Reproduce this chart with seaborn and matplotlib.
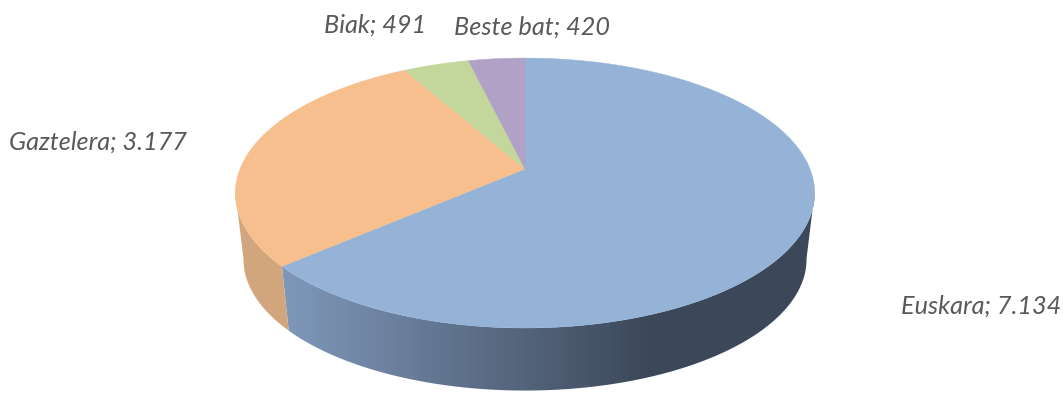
import numpy as np
import matplotlib
matplotlib.use("Agg")
import matplotlib.pyplot as plt
from matplotlib.patches import Polygon
import seaborn as sns

categories = ["Euskara", "Gaztelera", "Biak", "Beste bat"]
values = [7134, 3177, 491, 420]

sns.set_theme(style="white")
plt.rcParams["font.family"] = ["Lato", "DejaVu Sans"]

top_colors = sns.color_palette(["#95B3D7", "#F6BF8D", "#C3D69B", "#B2A1C7"])
wall_ramps = [
    sns.blend_palette(["#7F98BA", "#3C4859"], 256, as_cmap=True),
    sns.blend_palette(["#D2A67D", "#D2A67D"], 2, as_cmap=True),
    sns.blend_palette(["#9CAB7C", "#9CAB7C"], 2, as_cmap=True),
    sns.blend_palette(["#8E81A0", "#8E81A0"], 2, as_cmap=True),
]

W, H = 1063, 394
fig = plt.figure(figsize=(W / 100, H / 100), dpi=100, facecolor="white")
ax = fig.add_axes([0, 0, 1, 1])

# Perspective projection of the pie disc; angle runs clockwise from 12 o'clock
CX, APEX_Y, RX, RY, K = 525.0, 169.0, 285.0, 130.7, 0.178
DEPTH_Y, SHRINK = 67.0, 0.972
GRAD_X0, GRAD_X1 = 285.0, 650.0
WALL_FROM, WALL_TO = np.radians(100), np.radians(260)


def project(angle, lower=False):
    px, py = np.sin(angle), np.cos(angle)
    w = 1 + K * py
    s = SHRINK if lower else 1.0
    y0 = APEX_Y + DEPTH_Y if lower else APEX_Y
    return CX + s * RX * px / w, y0 - s * RY * py / w


fractions = np.array(values, dtype=float) / np.sum(values)
edges = np.concatenate([[0.0], np.cumsum(fractions)]) * 2 * np.pi

ramp_pos = np.clip((np.arange(W) + 0.5 - GRAD_X0) / (GRAD_X1 - GRAD_X0), 0, 1)[None, :]

# side walls: only the part facing the viewer, shaded left to right
for a0, a1, ramp in zip(edges[:-1], edges[1:], wall_ramps):
    lo, hi = max(a0, WALL_FROM), min(a1, WALL_TO)
    if lo >= hi:
        continue
    t = np.linspace(lo, hi, 300)
    xt, yt = project(t)
    xb, yb = project(t[::-1], lower=True)
    poly = Polygon(np.column_stack([np.r_[xt, xb], np.r_[yt, yb]]), closed=True,
                   facecolor="none", edgecolor="none", transform=ax.transData)
    ax.add_patch(poly)
    im = ax.imshow(ramp_pos, extent=(0, W, H, 0), cmap=ramp, vmin=0, vmax=1,
                   aspect="auto", interpolation="bilinear", zorder=1)
    im.set_clip_path(poly)

# top faces
for a0, a1, col in zip(edges[:-1], edges[1:], top_colors):
    t = np.linspace(a0, a1, 300)
    xt, yt = project(t)
    pts = np.column_stack([np.r_[CX, xt], np.r_[APEX_Y, yt]])
    ax.add_patch(Polygon(pts, closed=True, facecolor=col, edgecolor=col, linewidth=0.3, zorder=2))

ax.set_xlim(0, W)
ax.set_ylim(H, 0)
ax.axis("off")

# data labels
label_pos = [(1061, 306, "right"), (97.5, 142, "center"), (375.5, 25, "center"), (532.5, 27, "center")]
for name, val, (x, y, ha) in zip(categories, values, label_pos):
    txt = f"{name}; {val:,}".replace(",", ".")
    ax.text(x, y, txt, ha=ha, va="center", fontsize=18.2, style="italic", color="#595959", zorder=3)

fig.savefig("out.png", dpi=100, facecolor="white")
